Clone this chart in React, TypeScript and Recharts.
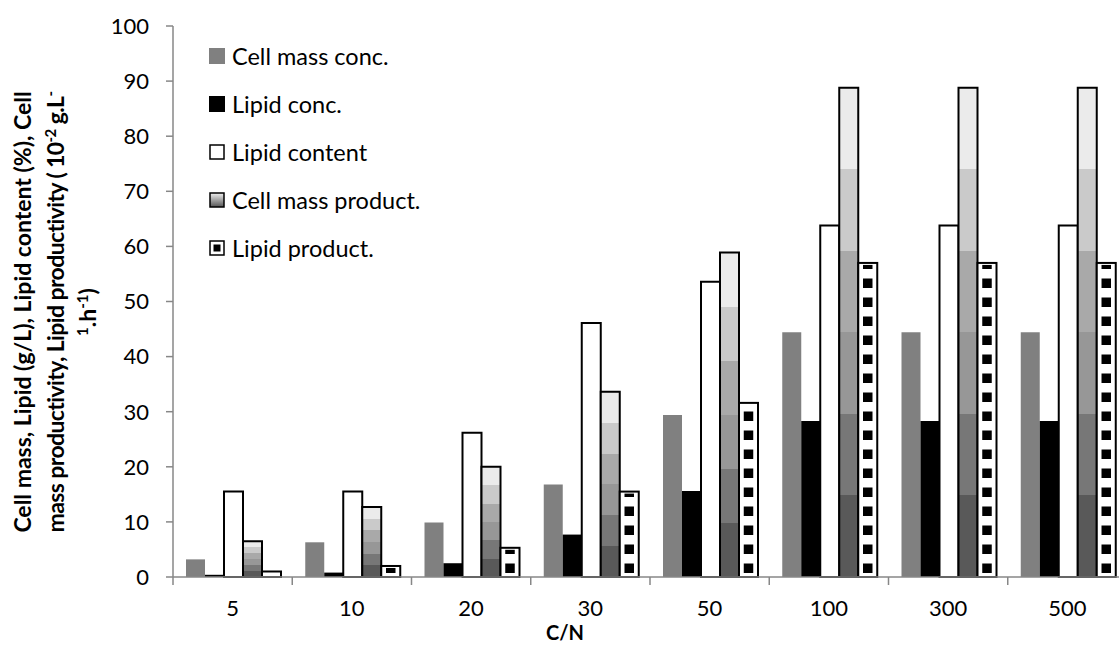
import React from 'react';
import { BarChart, Bar, XAxis, YAxis, Legend } from 'recharts';

// C/N ratios on the x axis
const categories = ['5', '10', '20', '30', '50', '100', '300', '500'];

// values
const cellMassConc = [3.2, 6.3, 9.9, 16.8, 29.4, 44.4, 44.4, 44.4];
const lipidConc = [0.4, 0.8, 2.5, 7.7, 15.6, 28.3, 28.3, 28.3];
const lipidContent = [15.5, 15.5, 26.2, 46.1, 53.6, 63.8, 63.8, 63.8];
const cellMassProduct = [6.5, 12.7, 20.0, 33.6, 58.9, 88.8, 88.8, 88.8];
const lipidProduct = [1.0, 2.0, 5.3, 15.5, 31.6, 57.0, 57.0, 57.0];

const yTicks = [0, 10, 20, 30, 40, 50, 60, 70, 80, 90, 100];

const seriesNames = [
  'Cell mass conc.',
  'Lipid conc.',
  'Lipid content',
  'Cell mass product.',
  'Lipid product.',
];

const data = categories.map((cn, i) => ({
  cn,
  cellMassConc: cellMassConc[i],
  lipidConc: lipidConc[i],
  lipidContent: lipidContent[i],
  cellMassProduct: cellMassProduct[i],
  lipidProduct: lipidProduct[i],
}));

const FONT = 'Lato, "Open Sans", sans-serif';
const AXIS_GRAY = '#878787';

// white bar with a column of black squares, like the Excel pattern fill
function DottedBar(props: any) {
  const { x, y, width, height } = props;
  if (!height || height <= 0) return null;
  const bottom = y + height;
  const size = 9.5;
  const period = 19;
  const squares = [];
  for (let b = bottom - 4; b > y + 2; b -= period) {
    const top = Math.max(b - size, y + 2);
    if (b - top > 0.5) {
      squares.push(
        <rect key={b} x={x + (width - size) / 2} y={top} width={size} height={b - top} fill="#000" />
      );
    }
  }
  return (
    <g>
      <rect x={x} y={y} width={width} height={height} fill="#fff" stroke="#000" strokeWidth={2} />
      {squares}
    </g>
  );
}

function CategoryTick(props: any) {
  const { x, y, payload, index, visibleTicksCount } = props;
  const half = payload && payload.offset ? payload.offset : 59.6;
  const last = index === (visibleTicksCount ?? categories.length) - 1;
  return (
    <g>
      <line x1={x - half} x2={x - half} y1={y} y2={y + 8} stroke={AXIS_GRAY} strokeWidth={1.5} />
      {last && <line x1={x + half} x2={x + half} y1={y} y2={y + 8} stroke={AXIS_GRAY} strokeWidth={1.5} />}
      <text x={x} y={y + 39} textAnchor="middle" fontSize={22} fontFamily={FONT} fill="#000">
        {payload.value}
      </text>
    </g>
  );
}

function YTitle() {
  const cy = -312;
  const common = { fontSize: 23, fontWeight: 700, fontFamily: FONT, fill: '#000', textAnchor: 'middle' as const };
  return (
    <g transform="rotate(-90)">
      <text x={cy} y={31} {...common}>
        Cell mass, Lipid (g/L), Lipid content (%), Cell
      </text>
      <text x={cy} y={64} {...common} letterSpacing={-0.6}>
        mass productivity, Lipid productivity ( 10
        <tspan dy={-8} fontSize={15}>-2</tspan>
        <tspan dy={8}> g.L</tspan>
        <tspan dy={-8} fontSize={15}>-</tspan>
      </text>
      <text x={cy} y={96} {...common}>
        <tspan dy={-8} fontSize={15}>1</tspan>
        <tspan dy={8}>.h</tspan>
        <tspan dy={-8} fontSize={15}>-1</tspan>
        <tspan dy={8}>)</tspan>
      </text>
    </g>
  );
}

function LegendMarker({ i }: { i: number }) {
  return (
    <svg width={16} height={16} style={{ display: 'block' }}>
      <defs>
        <linearGradient id="legGrad" x1="0" y1="1" x2="0" y2="0">
          <stop offset="0" stopColor="#555" />
          <stop offset="1" stopColor="#f0f0f0" />
        </linearGradient>
      </defs>
      {i === 0 && <rect x={0} y={0} width={16} height={16} fill="#808080" />}
      {i === 1 && <rect x={0} y={0} width={16} height={16} fill="#000" />}
      {i === 2 && <rect x={1} y={1} width={14} height={14} fill="#fff" stroke="#000" strokeWidth={1.5} />}
      {i === 3 && <rect x={1} y={1} width={14} height={14} fill="url(#legGrad)" stroke="#000" strokeWidth={1.5} />}
      {i === 4 && (
        <g>
          <rect x={1} y={1} width={14} height={14} fill="#fff" stroke="#000" strokeWidth={1.5} />
          <rect x={4.5} y={4.5} width={7} height={7} fill="#000" />
        </g>
      )}
    </svg>
  );
}

function LegendContent() {
  return (
    <div style={{ fontFamily: FONT, fontSize: 23.5, color: '#000' }}>
      {seriesNames.map((name, i) => (
        <div key={name} style={{ display: 'flex', alignItems: 'center', height: 48 }}>
          <LegendMarker i={i} />
          <span style={{ marginLeft: 7, whiteSpace: 'nowrap' }}>{name}</span>
        </div>
      ))}
    </div>
  );
}

export default function App() {
  return (
    <div style={{ position: 'absolute', left: 0, top: 0, width: 1119, height: 648, overflow: 'hidden', background: '#fff' }}>
      <BarChart
        width={1140}
        height={648}
        data={data}
        margin={{ top: 26, right: 13, bottom: 0, left: 0 }}
        barCategoryGap={13}
        barGap={0}
      >
        <defs>
          <linearGradient id="cmpGrad" x1="0" y1="1" x2="0" y2="0">
            <stop offset="0" stopColor="#595959" />
            <stop offset="0.1667" stopColor="#595959" />
            <stop offset="0.1667" stopColor="#777777" />
            <stop offset="0.3333" stopColor="#777777" />
            <stop offset="0.3333" stopColor="#979797" />
            <stop offset="0.5" stopColor="#979797" />
            <stop offset="0.5" stopColor="#a9a9a9" />
            <stop offset="0.6667" stopColor="#a9a9a9" />
            <stop offset="0.6667" stopColor="#cacaca" />
            <stop offset="0.8333" stopColor="#cacaca" />
            <stop offset="0.8333" stopColor="#ebebeb" />
            <stop offset="1" stopColor="#ebebeb" />
          </linearGradient>
        </defs>
        <XAxis
          dataKey="cn"
          height={71}
          axisLine={{ stroke: AXIS_GRAY, strokeWidth: 1.5 }}
          tickLine={false}
          tickSize={0}
          tickMargin={0}
          interval={0}
          tick={<CategoryTick />}
          label={{
            content: () => (
              <text x={565} y={640} textAnchor="middle" fontSize={20} fontWeight={700} fontFamily={FONT} fill="#000">
                C/N
              </text>
            ),
          }}
        />
        <YAxis
          width={173}
          domain={[0, 100]}
          ticks={yTicks}
          interval={0}
          axisLine={{ stroke: AXIS_GRAY, strokeWidth: 1.5 }}
          tickLine={{ stroke: AXIS_GRAY, strokeWidth: 1.5 }}
          tickSize={7}
          tickMargin={17}
          tick={{ fontSize: 22, fontFamily: FONT, fill: '#000' }}
          label={{ content: () => <YTitle /> }}
        />
        <Legend
          layout="vertical"
          align="center"
          verticalAlign="middle"
          content={<LegendContent />}
          wrapperStyle={{ left: 209, top: 32, width: 320 }}
        />
        <Bar dataKey="cellMassConc" name={seriesNames[0]} fill="#808080" isAnimationActive={false} />
        <Bar dataKey="lipidConc" name={seriesNames[1]} fill="#000" isAnimationActive={false} />
        <Bar dataKey="lipidContent" name={seriesNames[2]} fill="#fff" stroke="#000" strokeWidth={2} isAnimationActive={false} />
        <Bar dataKey="cellMassProduct" name={seriesNames[3]} fill="url(#cmpGrad)" stroke="#000" strokeWidth={2} isAnimationActive={false} />
        <Bar dataKey="lipidProduct" name={seriesNames[4]} fill="#fff" shape={<DottedBar />} isAnimationActive={false} />
      </BarChart>
    </div>
  );
}
